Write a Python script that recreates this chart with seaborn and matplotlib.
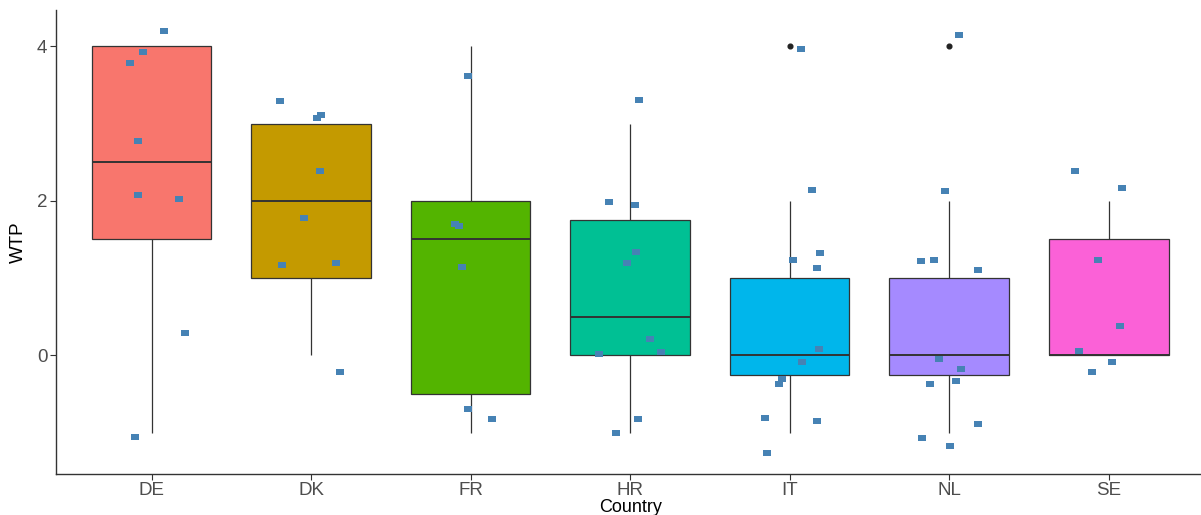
import numpy as np
import pandas as pd
import matplotlib
matplotlib.use("Agg")
import matplotlib.pyplot as plt
from matplotlib.path import Path
import seaborn as sns

# Willingness-to-pay responses per country (integer scale)
countries = ["DE", "DK", "FR", "HR", "IT", "NL", "SE"]
wtp_de = [4, 4, 4, 3, 2, 2, 0, -1]
wtp_dk = [3, 3, 3, 2, 2, 1, 1, 0]
wtp_fr = [4, 2, 2, 1, -1, -1]
wtp_hr = [3, 2, 2, 1, 1, 0, 0, 0, -1, -1]
wtp_it = [4, 2, 1, 1, 1, 0, 0, 0, 0, -1, -1, -1]
wtp_nl = [4, 2, 1, 1, 1, 0, 0, 0, 0, -1, -1, -1]
wtp_se = [2, 2, 1, 0, 0, 0, 0]

# Jitter applied to each response when overlaying the raw points
jit_x_de = [0.078, -0.051, -0.135, -0.083, -0.087, 0.171, 0.208, -0.102]
jit_y_de = [0.20, -0.08, -0.22, -0.23, 0.07, 0.03, 0.29, -0.05]
jit_x_dk = [-0.194, 0.060, 0.040, 0.054, -0.044, -0.180, 0.157, 0.179]
jit_y_dk = [0.29, 0.11, 0.07, 0.39, -0.22, 0.17, 0.19, -0.22]
jit_x_fr = [-0.019, -0.098, -0.073, -0.055, -0.019, 0.132]
jit_y_fr = [-0.39, -0.30, -0.33, 0.14, 0.31, 0.18]
jit_x_hr = [0.055, -0.135, 0.028, 0.038, -0.021, 0.124, 0.192, -0.198, 0.048, -0.090]
jit_y_hr = [0.30, -0.02, -0.06, 0.34, 0.19, 0.21, 0.04, 0.02, 0.18, -0.01]
jit_x_it = [0.073, 0.138, 0.192, 0.021, 0.171, 0.184, 0.077, -0.050, -0.069, -0.155, 0.171, -0.142]
jit_y_it = [-0.03, 0.14, 0.33, 0.23, 0.13, 0.08, -0.09, -0.31, -0.37, 0.19, 0.15, -0.26]
jit_x_nl = [0.063, -0.027, -0.177, -0.094, 0.180, -0.061, 0.077, 0.042, -0.121, 0.180, -0.169, 0.008]
jit_y_nl = [0.15, 0.13, 0.22, 0.23, 0.10, -0.05, -0.18, -0.33, -0.37, 0.11, -0.07, -0.17]
jit_x_se = [-0.211, 0.085, -0.065, 0.071, -0.186, 0.021, -0.107]
jit_y_se = [0.39, 0.17, 0.24, 0.38, 0.06, -0.09, -0.22]

palette = ["#F8766D", "#C49A00", "#53B400", "#00C094", "#00B6EB", "#A58AFF", "#FB61D7"]

values = [wtp_de, wtp_dk, wtp_fr, wtp_hr, wtp_it, wtp_nl, wtp_se]
jx = [jit_x_de, jit_x_dk, jit_x_fr, jit_x_hr, jit_x_it, jit_x_nl, jit_x_se]
jy = [jit_y_de, jit_y_dk, jit_y_fr, jit_y_hr, jit_y_it, jit_y_nl, jit_y_se]

rows = []
for i, (c, vals) in enumerate(zip(countries, values)):
    for v, dx, dy in zip(vals, jx[i], jy[i]):
        rows.append({"Country": c, "WTP": v, "xj": i + dx, "yj": v + dy})
df = pd.DataFrame(rows)

sns.set_style("white")
plt.rcParams["font.family"] = ["Liberation Sans", "DejaVu Sans"]

fig = plt.figure(figsize=(12.01, 5.15), dpi=100)
ax = fig.add_axes([55.8 / 1201, 41 / 515, 1148.6 / 1201, 464 / 515])

edge = "#333333"
sns.boxplot(
    data=df, x="Country", y="WTP", hue="Country", order=countries, hue_order=countries,
    palette=palette, saturation=1, width=0.75, whis=1.5, showcaps=False,
    linewidth=0.9, linecolor=edge, legend=False, ax=ax,
    medianprops=dict(color=edge, linewidth=1.4),
    whiskerprops=dict(color=edge, linewidth=0.9),
    flierprops=dict(marker="o", markerfacecolor="#222222", markeredgecolor="#222222",
                    markersize=3.4),
)

# small flat rectangle marker for the jittered observations
rect = Path([(-1.4, -1.0), (1.4, -1.0), (1.4, 1.0), (-1.4, 1.0), (-1.4, -1.0)],
            [Path.MOVETO, Path.LINETO, Path.LINETO, Path.LINETO, Path.CLOSEPOLY])
sns.scatterplot(data=df, x="xj", y="yj", marker=rect, s=26, color="#4682B4",
                linewidth=0, ax=ax, zorder=5, legend=False)

ax.set_xlim(-0.6, 6.6)
ax.set_ylim(-1.535, 4.47)
ax.set_xticks(range(len(countries)))
ax.set_xticklabels(countries)
ax.set_yticks([0, 2, 4])
ax.set_yticklabels(["0", "2", "4"])

for side in ["top", "right"]:
    ax.spines[side].set_visible(False)
for side in ["left", "bottom"]:
    ax.spines[side].set_color("#333333")
    ax.spines[side].set_linewidth(1.0)

ax.tick_params(axis="both", which="major", length=4, width=0.8, color="#333333",
               labelcolor="#4D4D4D", labelsize=13.5, direction="out", left=True, bottom=True)
ax.tick_params(axis="x", pad=1.5)
ax.tick_params(axis="y", pad=2)

ax.set_xlabel("Country", fontsize=13, color="black", labelpad=0)
ax.set_ylabel("WTP", fontsize=13.5, color="black", labelpad=7)
ax.grid(False)

fig.savefig("out.png", dpi=100)
